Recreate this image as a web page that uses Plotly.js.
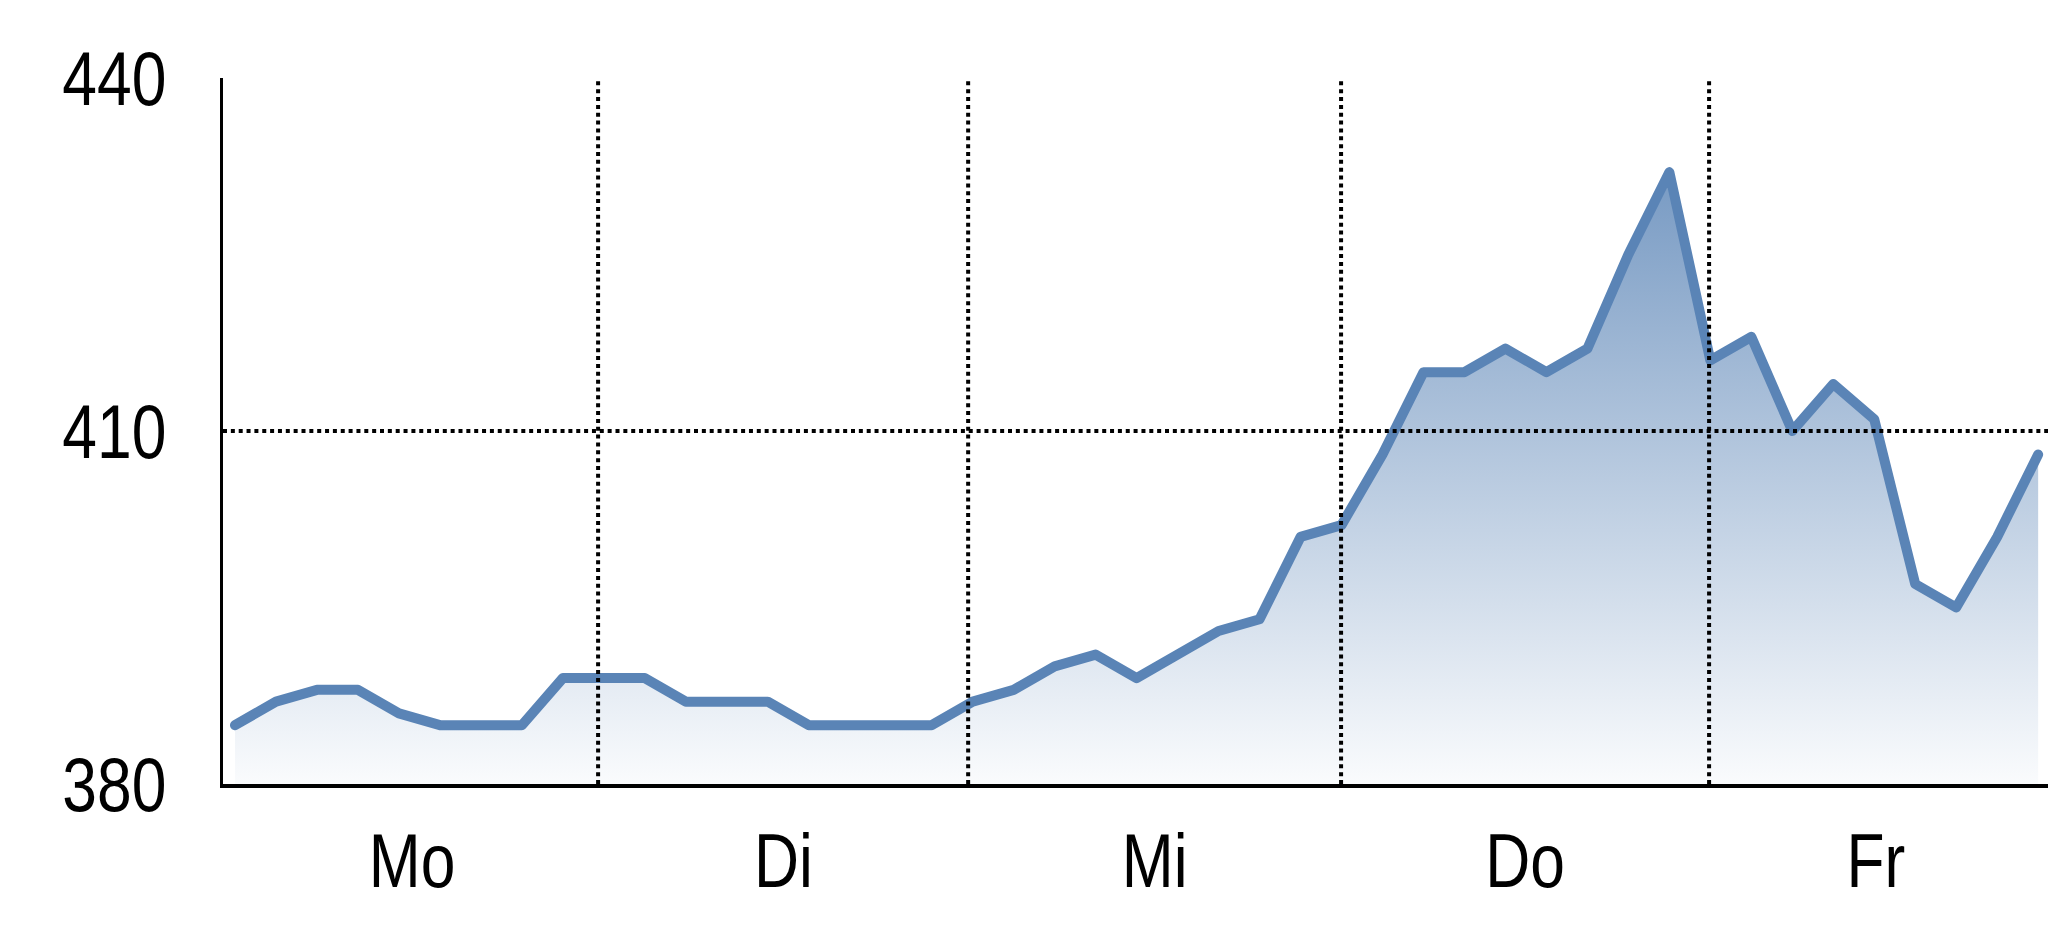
<!DOCTYPE html>
<html>
<head>
<meta charset="utf-8">
<script src="https://cdn.plot.ly/plotly-3.0.1.min.js"></script>
<style>
  html, body { margin: 0; padding: 0; background: #ffffff; }
  #chart { width: 2048px; height: 937px; }
  .scatterlayer .js-line { stroke-linejoin: round; stroke-linecap: round; }
</style>
</head>
<body>
<div id="chart"></div>
<script>
// ---- data ----
const days = ['Mo', 'Di', 'Mi', 'Do', 'Fr'];
const values = [
  385, 387, 388, 388, 386, 385, 385, 385, 389,   // Mo
  389, 389, 387, 387, 387, 385, 385, 385, 385,   // Di
  387, 388, 390, 391, 389, 391, 393, 394, 401,   // Mi
  402, 408, 415, 415, 417, 415, 417, 425, 432,   // Do
  416, 418, 410, 414, 411, 397, 395, 401, 408    // Fr
];
const yTicks = [380, 410, 440];
const yGrid = [410];

// ---- layout helpers ----
const steps = values.map((_, i) => i);
const dayCenters = [4.32, 13.38, 22.44, 31.48, 40.04];
const dayBounds = [8.86, 17.89, 26.99, 35.97];

const font = { family: '"Liberation Sans Narrow", "Arial Narrow", "Liberation Sans", Arial, sans-serif', size: 76, color: '#000000' };
const dotted = { color: '#000000', width: 4, dash: '4px,3.85px' };

const shapes = [];
dayBounds.forEach(b => shapes.push({
  type: 'line', layer: 'above', xref: 'x', yref: 'paper',
  x0: b, x1: b, y0: 0, y1: 1, line: dotted
}));
yGrid.forEach(v => shapes.push({
  type: 'line', layer: 'above', xref: 'paper', yref: 'y',
  x0: 0, x1: 1, y0: v, y1: v, line: dotted
}));

const trace = {
  type: 'scatter',
  mode: 'lines',
  x: steps,
  y: values,
  line: { color: '#5a84b6', width: 10, shape: 'linear' },
  fill: 'tozeroy',
  fillgradient: {
    type: 'vertical',
    start: 380,
    stop: 432,
    colorscale: [
      [0, 'rgba(90,132,182,0.03)'],
      [1, 'rgba(90,132,182,0.82)']
    ]
  },
  hoverinfo: 'skip',
  showlegend: false
};

const layout = {
  width: 2048,
  height: 937,
  margin: { l: 223, r: 0, t: 78, b: 153, pad: 0 },
  paper_bgcolor: '#ffffff',
  plot_bgcolor: '#ffffff',
  font: font,
  showlegend: false,
  hovermode: false,
  xaxis: {
    range: [-0.293, 44.24],
    tickmode: 'array',
    tickvals: dayCenters,
    ticktext: days,
    ticks: '',
    ticklabelstandoff: 8,
    showgrid: false,
    zeroline: false,
    showline: true,
    linecolor: '#000000',
    linewidth: 3.5,
    tickfont: font,
    fixedrange: true
  },
  yaxis: {
    range: [380, 440],
    tickmode: 'array',
    tickvals: yTicks,
    ticktext: yTicks.map(String),
    ticks: '',
    ticklabelstandoff: 38,
    showgrid: false,
    zeroline: false,
    showline: true,
    linecolor: '#000000',
    linewidth: 3.5,
    tickfont: font,
    fixedrange: true
  },
  shapes: shapes
};

Plotly.newPlot('chart', [trace], layout, { displayModeBar: false, staticPlot: true }).then(() => {
  // the reference uses a condensed face; compress the labels horizontally
  document.querySelectorAll('#chart .xtick text, #chart .ytick text').forEach(t => {
    const w = t.getComputedTextLength();
    t.setAttribute('textLength', (w * 0.82).toFixed(1));
    t.setAttribute('lengthAdjust', 'spacingAndGlyphs');
  });
});
</script>
</body>
</html>
